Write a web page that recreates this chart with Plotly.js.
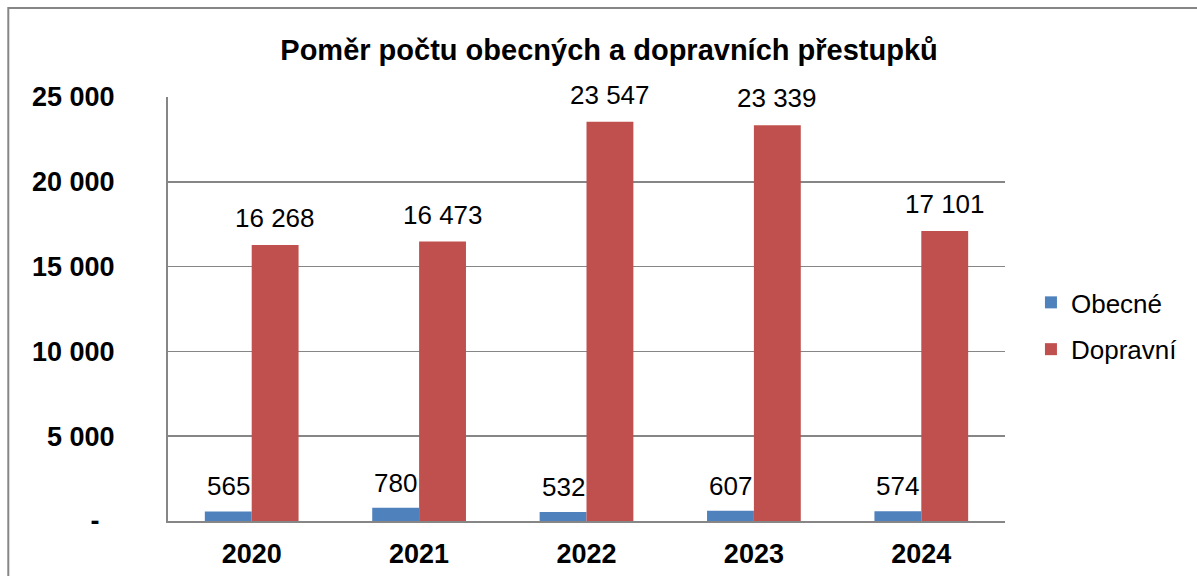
<!DOCTYPE html>
<html><head><meta charset="utf-8">
<script src="https://cdn.plot.ly/plotly-3.0.1.min.js"></script>
<style>html,body{margin:0;padding:0;background:#fff}#c{width:1197px;height:576px}</style>
</head><body><div id="c"></div>
<script>
const years = ['2020','2021','2022','2023','2024'];
const obecne = [565, 780, 532, 607, 574];
const dopravni = [16268, 16473, 23547, 23339, 17101];
const seriesNames = ['Obecné','Dopravní'];
const yTickVals = [0, 5000, 10000, 15000, 20000, 25000];
const yTickText = ['-\u00a0\u00a0', '5 000', '10 000', '15 000', '20 000', '25 000'];
const fmt = v => String(v).replace(/\B(?=(\d{3})+(?!\d))/g, ' ');
const F = 'Arial, "Liberation Sans", sans-serif';
const BARGAP = 0.44;
const off = (1 - BARGAP) / 4;
const traces = [
  {type:'bar', name:seriesNames[0], legendgroup:'a', x:years, y:obecne, marker:{color:'#4F81BD'}},
  {type:'bar', name:seriesNames[1], legendgroup:'b', x:years, y:dopravni, marker:{color:'#C0504D'}}
];
const annotations = [];
years.forEach((yr, i) => {
  annotations.push({x:i - off, y:obecne[i], xref:'x', yref:'y', text:fmt(obecne[i]), showarrow:false,
    yanchor:'bottom', yshift:8, font:{family:F,size:26,color:'#000'}});
  annotations.push({x:i + off, y:dopravni[i], xref:'x', yref:'y', text:fmt(dopravni[i]), showarrow:false,
    yanchor:'bottom', yshift:10, font:{family:F,size:26,color:'#000'}});
});
const layout = {
  width:1197, height:576,
  margin:{l:168, r:192, t:97, b:55, autoexpand:false},
  paper_bgcolor:'#fff', plot_bgcolor:'#fff',
  font:{family:F, color:'#000'},
  barmode:'group', bargap:BARGAP, bargroupgap:0,
  title:{text:'<b>Poměr počtu obecných a dopravních přestupků</b>', x:0.5088, xanchor:'center', xref:'container', y:0.913, yanchor:'middle', yref:'container', font:{family:F,size:29,color:'#000'}},
  xaxis:{type:'category', showline:true, linecolor:'#868686', linewidth:2, showgrid:false, ticks:'', ticklabelstandoff:8,
    tickfont:{family:F,size:27,color:'#000', weight:'bold'}, fixedrange:true},
  yaxis:{range:[0,25000], tickvals:yTickVals, ticktext:yTickText, showline:true, linecolor:'#868686', linewidth:2,
    showgrid:true, gridcolor:'#868686', gridwidth:1.5, zeroline:false, ticks:'', ticklabelstandoff:46,
    tickfont:{family:F,size:27,color:'#000', weight:'bold'}, fixedrange:true},
  legend:{x:1.031, xanchor:'left', y:0.46, yanchor:'middle', traceorder:'grouped', tracegroupgap:10,
    font:{family:F,size:26,color:'#000'}, itemwidth:30},
  showlegend:true,
  annotations:annotations,
  shapes:[{type:'rect', xref:'paper', yref:'paper', x0:-0.1908, x1:1.25, y0:1.21, y1:-0.2, line:{color:'#868686', width:2}, layer:'below'}]
};
Plotly.newPlot('c', traces, layout, {displayModeBar:false, staticPlot:true});
</script></body></html>
